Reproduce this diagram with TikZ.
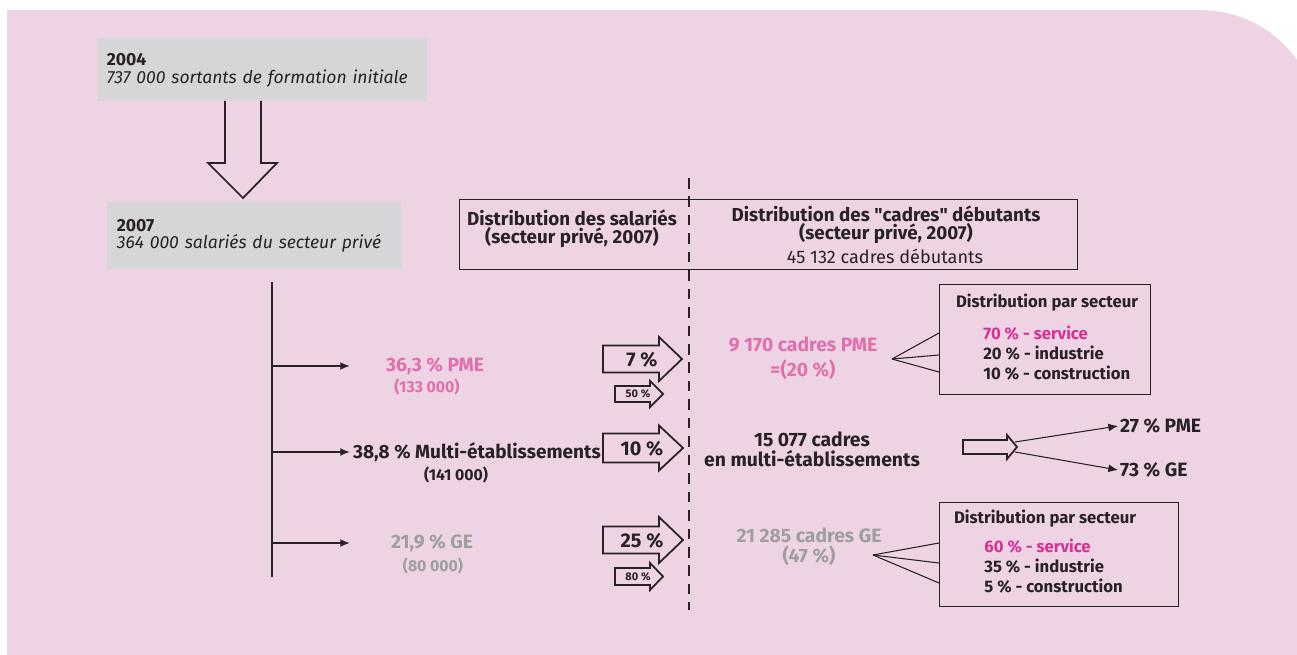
\documentclass[tikz,border=0pt]{standalone}
\usepackage{fontspec}
\setmainfont{Fira Sans}
\usetikzlibrary{arrows.meta, positioning}

\definecolor{bgpink}{RGB}{238,211,229}
\definecolor{boxgray}{RGB}{214,214,217}
\definecolor{ink}{RGB}{40,33,40}
\definecolor{pmepink}{RGB}{224,112,172}
\definecolor{servpink}{RGB}{214,50,145}
\definecolor{gegray}{RGB}{158,158,161}

\newcommand{\szY}{\fontsize{10}{10.2}\selectfont}
\newcommand{\szL}{\fontsize{11}{11.4}\selectfont}
\newcommand{\szH}{\fontsize{10.7}{10.5}\selectfont}
\newcommand{\szB}{\fontsize{9.5}{11.4}\selectfont}
\newcommand{\szS}{\fontsize{9}{10}\selectfont}
\newcommand{\szT}{\fontsize{6.3}{7}\selectfont}

% hollow block arrow: x start, x head, x tip, y centre, half shaft, half head
\newcommand{\fatarrow}[6]{%
  \draw[hollow] (#1,#4-#5) -- (#2,#4-#5) -- (#2,#4-#6) -- (#3,#4)
    -- (#2,#4+#6) -- (#2,#4+#5) -- (#1,#4+#5) -- cycle;}

\begin{document}
\begin{tikzpicture}[
    x=0.02cm, y=-0.02cm,
    >={Latex[length=5.5pt,width=4.5pt]}, % Default arrow tip
    graybox/.style={fill=boxgray, anchor=north west, inner xsep=0.19cm,
      align=left, font=\szY, text=ink}, % Grey year boxes
    lbl/.style={font=\szL\bfseries, align=center, text=ink}, % Main labels
    pctlbl/.style={font=\fontsize{11.3}{12}\selectfont\bfseries, text=ink}, % Shares in arrows
    sublbl/.style={font=\szS\bfseries, text=ink}, % Numbers in brackets
    hdr/.style={font=\szH\bfseries, align=center, text=ink}, % Header texts
    secbox/.style={draw=ink, line width=0.8pt, anchor=north west}, % Sector boxes
    hollow/.style={draw=ink, line width=1pt, line join=miter}, % Block arrows
    fan/.style={draw=ink, line width=0.6pt}, % Thin lines to boxes
    branch/.style={draw=ink, line width=1pt} % Trunk and branches
]

    % Canvas and pink background
    \useasboundingbox (0,0) rectangle (1297,655);
    \begin{scope}
      \clip (0,0) rectangle (1297,655);
      \fill[bgpink] (7,660) -- (7,10) -- (1200,10)
        .. controls (1266,10) and (1319,63) .. (1319,129) -- (1319,660) -- cycle;
    \end{scope}

    % Year boxes
    \node[graybox, minimum width=6.6cm, minimum height=1.26cm, text width=6.22cm]
      (y2004) at (97,38) {\textbf{2004}\\\textit{737 000 sortants de formation initiale}};
    \node[graybox, minimum width=5.88cm, minimum height=1.34cm, text width=5.5cm]
      (y2007) at (107,202) {\textbf{2007}\\\textit{364 000 salariés du secteur privé}};

    % Big down arrow between the years
    \draw[hollow] (225,101) -- (225,163) -- (208,163) -- (243,198)
      -- (277,163) -- (261,163) -- (261,101);

    % Trunk and branches
    \coordinate (trunktop) at (272,282);
    \coordinate (trunkbot) at (272,577);
    \draw[branch] (trunktop) -- (trunkbot);
    \coordinate (tipA) at (350,366);
    \coordinate (tipB) at (350,452);
    \coordinate (tipC) at (350,543);
    \draw[branch, ->] (trunktop |- tipA) -- (tipA);
    \draw[branch, ->] (trunktop |- tipB) -- (tipB);
    \draw[branch, ->] (trunktop |- tipC) -- (tipC);

    % Employee labels
    \node[lbl, text=pmepink] (pme) at (435,366) {36,3 \% PME};
    \node[sublbl, text=pmepink] (pmesub) at (427,387) {(133 000)};
    \node[lbl, anchor=west, inner xsep=1pt, font=\fontsize{10.85}{11.4}\selectfont\bfseries]
      (multi) at (351,452) {38,8 \% Multi-établissements};
    \node[sublbl] (multisub) at (456,475) {(141 000)};
    \node[lbl, text=gegray] (ge) at (432,543) {21,9 \% GE};
    \node[sublbl, text=gegray] (gesub) at (433,566) {(80 000)};

    % Block arrows with shares
    \fatarrow{603}{659}{682}{359}{13.5}{22}
    \node[pctlbl] (pctA) at (642,360) {7 \%};
    \fatarrow{615}{650}{663}{394}{8}{13}
    \node[font=\szT\bfseries, text=ink] (pctAs) at (638,394) {50 \%};
    \fatarrow{603}{659}{683}{448}{14.5}{22.5}
    \node[pctlbl] (pctB) at (642,449) {10 \%};
    \fatarrow{603}{659}{683}{540}{13.5}{23}
    \node[pctlbl] (pctC) at (642,541) {25 \%};
    \fatarrow{615}{650}{663}{576.5}{8.5}{13.5}
    \node[font=\szT\bfseries, text=ink] (pctCs) at (638,577) {80 \%};

    % Header box and dashed divider
    \node[draw=ink, line width=0.8pt, anchor=north west, minimum width=12.36cm,
      minimum height=1.4cm] (header) at (459,199) {};
    \draw[ink, line width=0.7pt, dash pattern=on 6pt off 4.5pt] (689,178) -- (689,610);
    \node[hdr] (hleft) at (572,229) {Distribution des salariés\\(secteur privé, 2007)};
    \node[hdr] (hright) at (886,225) {Distribution des \textquotedbl cadres\textquotedbl\ débutants\\(secteur privé, 2007)};
    \node[font=\fontsize{10.3}{11}\selectfont, text=ink] (hcount) at (885,256) {45 132 cadres débutants};

    % PME managers
    \node[lbl, text=pmepink, font=\fontsize{11}{14}\selectfont\bfseries] (cpme) at (803,358) {9 170 cadres PME\\=(20 \%)};
    \node[secbox, minimum width=4.22cm, minimum height=2.2cm] (pmebox) at (939,284) {};
    \coordinate (fanA) at (892,359);
    \draw[fan] (fanA) -- (pmebox.west |- 0,333);
    \draw[fan] (fanA) -- (pmebox.west |- 0,355);
    \draw[fan] (fanA) -- (pmebox.west |- 0,372);
    \node[font=\szB\bfseries, text=ink] (pmetitle) at (1047,303) {Distribution par secteur};
    \node[font=\szB\bfseries, text=ink, anchor=west, align=left, inner xsep=0pt]
      (pmelist) at (983,353) {\textcolor{servpink}{70 \% - service}\\20 \% - industrie\\10 \% - construction};

    % Multi-establishment managers
    \node[lbl] (cmulti) at (812,449) {15 077 cadres\\en multi-établissements};
    \fatarrow{963}{1007}{1017}{447}{7}{12}
    \coordinate (splitA) at (1015,442);
    \coordinate (splitB) at (1015,452);
    \node[lbl, anchor=west, inner xsep=1pt] (pct27) at (1118,426) {27 \% PME};
    \node[lbl, anchor=west, inner xsep=1pt] (pct73) at (1118,470) {73 \% GE};
    \draw[fan, ->] (splitA) -- (pct27.west);
    \draw[fan, ->] (splitB) -- (pct73.west);

    % GE managers
    \node[lbl, text=gegray] (cge) at (809,547) {21 285 cadres GE\\(47 \%)};
    \node[secbox, minimum width=4.78cm, minimum height=2.08cm] (gebox) at (939,502) {};
    \coordinate (fanB) at (873,555);
    \draw[fan] (fanB) -- (gebox.west |- 0,543);
    \draw[fan] (fanB) -- (gebox.west |- 0,563);
    \draw[fan] (fanB) -- (gebox.west |- 0,583);
    \node[font=\szB\bfseries, text=ink] (getitle) at (1045,519) {Distribution par secteur};
    \node[font=\szB\bfseries, text=ink, anchor=west, align=left, inner xsep=0pt]
      (gelist) at (984,566) {\textcolor{servpink}{60 \% - service}\\35 \% - industrie\\5 \% - construction};

\end{tikzpicture}
\end{document}
